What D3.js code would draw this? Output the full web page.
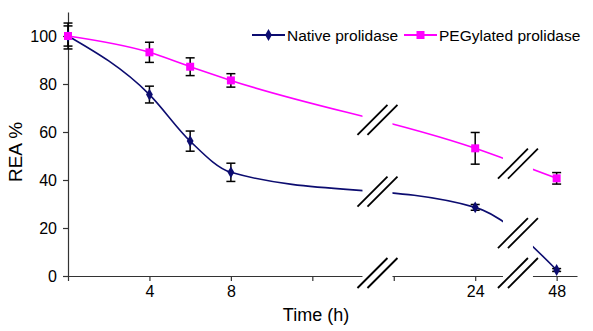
<!DOCTYPE html>
<html>
<head>
<meta charset="utf-8">
<script src="https://cdn.jsdelivr.net/npm/d3@7"></script>
<style>
  body { margin: 0; background: #fff; }
  text { font-family: "Liberation Sans", Arial, sans-serif; fill: #000; }
</style>
</head>
<body>
<svg width="593" height="331"></svg>
<script>
var WIDTH = 593;
var HEIGHT = 331;

// data
var times = [0, 4, 6, 8, 24, 48];
var nativeVals = [100, 75.6, 56.2, 43.2, 28.6, 2.5];
var nativeErr = [5.4, 3.5, 4.2, 3.8, 1.2, 0.6];
var pegVals = [100, 93.2, 87.2, 81.5, 53.2, 40.7];
var pegErr = [4.2, 4.2, 3.7, 2.8, 6.6, 2.4];
var yTicks = [0, 20, 40, 60, 80, 100];
var xTickSlots = [0, 4, 8, 12, 16, 20, 24];
var xTickLabels = ["", "4", "8", "", "", "24", "48"];
var breakSlots = [15.2, 22.1];

var svg = d3.select("svg");

// broken time axis: hours -> evenly spaced slot
var slot = d3.scaleLinear().domain([0, 8, 24, 48]).range([0, 8, 20, 24]);
var x = d3.scaleLinear().domain([0, 25]).range([68, 577]);
var y = d3.scaleLinear().domain([0, 110]).range([276, 12]);

function px(t) { return x(slot(t)); }

var nativeData = times.map(function(t, i) { return {t: t, v: nativeVals[i], e: nativeErr[i]}; });
var pegData = times.map(function(t, i) { return {t: t, v: pegVals[i], e: pegErr[i]}; });

var NAVY = "#0c0c70";
var PINK = "#ff00ff";

var line = d3.line()
    .x(function(d) { return px(d.t); })
    .y(function(d) { return y(d.v); })
    .curve(d3.curveMonotoneX);

var paths = svg.append("g");
var nativePath = paths.append("path").datum(nativeData)
    .attr("d", line).attr("fill", "none").attr("stroke", NAVY).attr("stroke-width", 1.6);
var pegPath = paths.append("path").datum(pegData)
    .attr("d", line).attr("fill", "none").attr("stroke", PINK).attr("stroke-width", 1.6);

// axes
var yAxis = svg.append("g")
    .attr("transform", "translate(" + x(0) + ",0)")
    .call(d3.axisLeft(y).tickValues(yTicks).tickSize(5).tickPadding(6).tickSizeOuter(0));
var xAxis = svg.append("g")
    .attr("transform", "translate(0," + y(0) + ")")
    .call(d3.axisBottom(x).tickValues(xTickSlots).tickSize(5).tickPadding(5).tickSizeOuter(0)
        .tickFormat(function(d, i) { return xTickLabels[i]; }));

[yAxis, xAxis].forEach(function(a) {
    a.select(".domain").attr("stroke", "#333").attr("stroke-width", 1.2);
    a.selectAll(".tick line").attr("stroke", "#333").attr("stroke-width", 1.2);
    a.selectAll("text").attr("font-size", 16).attr("fill", "#000")
        .style("font-family", "'Liberation Sans', Arial, sans-serif");
});

// y value of a path at a given x
function yAt(path, xv) {
    var node = path.node(), lo = 0, hi = node.getTotalLength();
    for (var k = 0; k < 40; k++) {
        var mid = (lo + hi) / 2;
        if (node.getPointAtLength(mid).x < xv) lo = mid; else hi = mid;
    }
    return node.getPointAtLength(lo).y;
}

// axis breaks
var breaks = svg.append("g");
breakSlots.forEach(function(s) {
    var cx = x(s);
    var centers = [yAt(nativePath, cx), yAt(pegPath, cx), y(0) - 3];
    breaks.append("rect")
        .attr("x", cx - 15).attr("y", y(110) - 2)
        .attr("width", 30).attr("height", y(0) - y(110) + 10)
        .attr("fill", "#fff");
    centers.forEach(function(cy) {
        [-5, 5].forEach(function(off) {
            breaks.append("line")
                .attr("x1", cx + off - 15).attr("y1", cy + 15)
                .attr("x2", cx + off + 15).attr("y2", cy - 15)
                .attr("stroke", "#000").attr("stroke-width", 1.8);
        });
    });
});

// error bars
function errorBars(data) {
    var g = svg.append("g").attr("stroke", "#000").attr("stroke-width", 1.5);
    g.selectAll("line.v").data(data).enter().append("line")
        .attr("x1", function(d) { return px(d.t); })
        .attr("x2", function(d) { return px(d.t); })
        .attr("y1", function(d) { return y(d.v - d.e); })
        .attr("y2", function(d) { return y(d.v + d.e); });
    [-1, 1].forEach(function(sgn) {
        g.selectAll("line.c" + sgn).data(data).enter().append("line")
            .attr("x1", function(d) { return px(d.t) - 4.5; })
            .attr("x2", function(d) { return px(d.t) + 4.5; })
            .attr("y1", function(d) { return y(d.v + sgn * d.e); })
            .attr("y2", function(d) { return y(d.v + sgn * d.e); });
    });
}
errorBars(nativeData);
errorBars(pegData);

// markers
var diamond = d3.symbol().type(d3.symbolDiamond).size(40);
var square = d3.symbol().type(d3.symbolSquare).size(64);

svg.append("g").selectAll("path").data(nativeData).enter().append("path")
    .attr("d", diamond)
    .attr("transform", function(d) { return "translate(" + px(d.t) + "," + y(d.v) + ")"; })
    .attr("fill", NAVY);
svg.append("g").selectAll("path").data(pegData).enter().append("path")
    .attr("d", square)
    .attr("transform", function(d) { return "translate(" + px(d.t) + "," + y(d.v) + ")"; })
    .attr("fill", PINK);

// axis titles
svg.append("text")
    .attr("transform", "translate(22,152) rotate(-90)")
    .attr("text-anchor", "middle")
    .attr("font-size", 19)
    .text("REA %");
svg.append("text")
    .attr("x", 316).attr("y", 321)
    .attr("text-anchor", "middle")
    .attr("font-size", 18)
    .text("Time (h)");

// legend
var legend = svg.append("g");
var items = [
    {label: "Native prolidase", color: NAVY, sym: diamond, x0: 252},
    {label: "PEGylated prolidase", color: PINK, sym: square, x0: 404}
];
items.forEach(function(it) {
    legend.append("line")
        .attr("x1", it.x0).attr("x2", it.x0 + 33)
        .attr("y1", 35).attr("y2", 35)
        .attr("stroke", it.color).attr("stroke-width", 2);
    legend.append("path").attr("d", it.sym)
        .attr("transform", "translate(" + (it.x0 + 16.5) + ",35)")
        .attr("fill", it.color);
    legend.append("text")
        .attr("x", it.x0 + 35).attr("y", 40.5)
        .attr("font-size", 15.5)
        .text(it.label);
});
</script>
</body>
</html>
